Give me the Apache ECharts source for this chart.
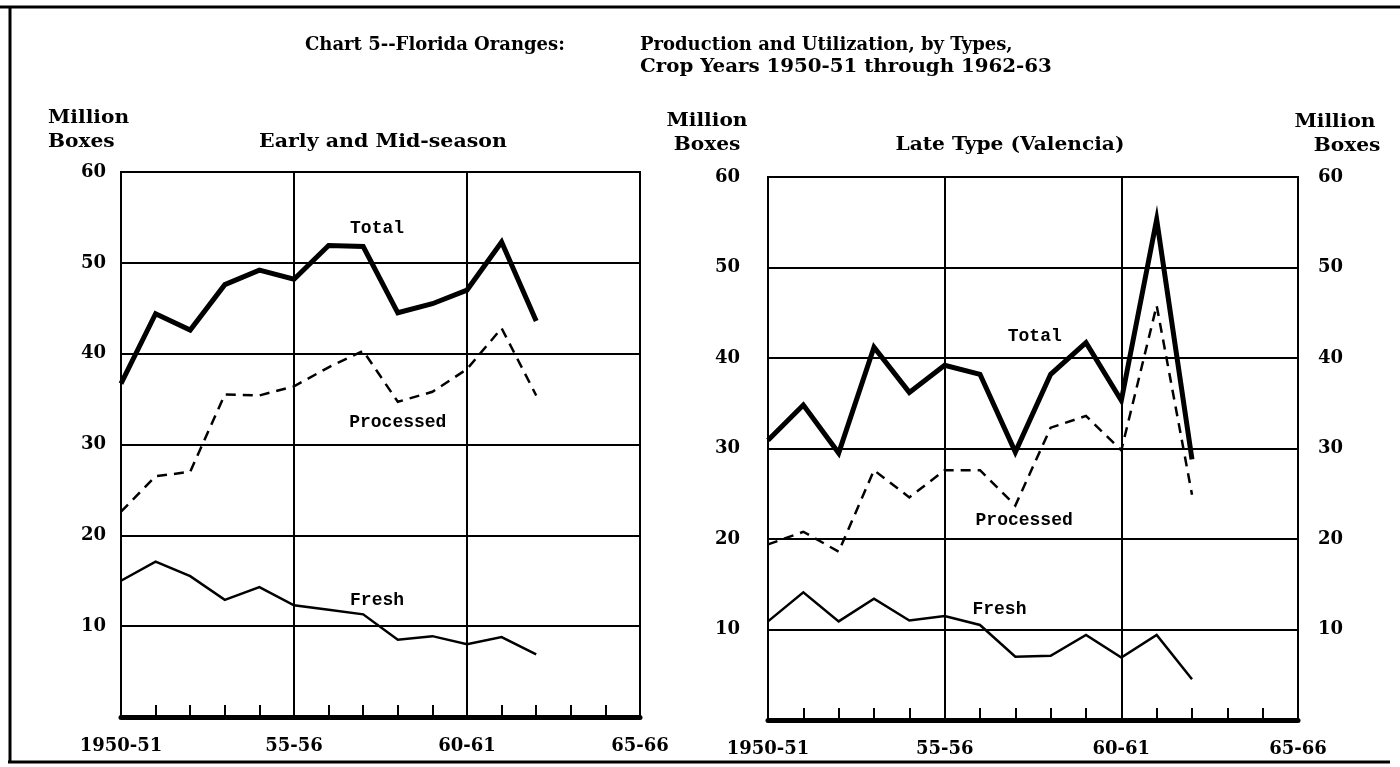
<!DOCTYPE html>
<html>
<head>
<meta charset="utf-8">
<script src="https://cdn.jsdelivr.net/npm/echarts@6/dist/echarts.min.js"></script>
<style>
  html, body { margin: 0; padding: 0; background: #fff; }
  #chart { width: 1400px; height: 767px; }
</style>
</head>
<body>
<div id="chart"></div>
<script>
// crop years on the x axis (tick every year, label every 5)
const years = ['1950-51', '1951-52', '1952-53', '1953-54', '1954-55', '1955-56', '1956-57', '1957-58',
  '1958-59', '1959-60', '1960-61', '1961-62', '1962-63', '1963-64', '1964-65', '1965-66']
const yearLabels = { 0: '1950-51', 5: '55-56', 10: '60-61', 15: '65-66' }

// Early and Mid-season (million boxes)
const earlyTotal = [36.7, 44.4, 42.6, 47.6, 49.2, 48.2, 51.9, 51.8, 44.5, 45.5, 47.0, 52.3, 43.6]
const earlyProcessed = [22.6, 26.5, 27.0, 35.5, 35.4, 36.4, 38.5, 40.3, 34.7, 35.8, 38.3, 42.8, 35.4]
const earlyFresh = [15.0, 17.1, 15.5, 12.9, 14.3, 12.3, 11.8, 11.3, 8.5, 8.9, 8.0, 8.8, 6.9]

// Late type (Valencia)
const lateTotal = [30.9, 34.8, 29.5, 41.2, 36.2, 39.2, 38.2, 29.6, 38.2, 41.7, 35.3, 55.3, 28.8]
const lateProcessed = [19.4, 20.8, 18.6, 27.6, 24.6, 27.6, 27.6, 23.7, 32.3, 33.6, 29.8, 45.8, 24.9]
const lateFresh = [10.9, 14.1, 10.9, 13.4, 11.0, 11.5, 10.5, 7.0, 7.1, 9.4, 6.9, 9.4, 4.5]

const FONT = "'DejaVu Serif', serif"
const TYPE = "'Liberation Mono', monospace"

// plot boxes
const grids = [
  { left: 121, top: 172, width: 519, height: 545 },
  { left: 768, top: 177, width: 530, height: 543 }
]

// where the series names sit (year index, value)
const seriesNames = [
  { g: 0, text: 'Total', x: 7.4, y: 53.8 },
  { g: 0, text: 'Processed', x: 8.0, y: 32.4 },
  { g: 0, text: 'Fresh', x: 7.4, y: 12.8 },
  { g: 1, text: 'Total', x: 7.55, y: 42.4 },
  { g: 1, text: 'Processed', x: 7.25, y: 22.0 },
  { g: 1, text: 'Fresh', x: 6.55, y: 12.2 }
]

function toPx(g, x, y) {
  const b = grids[g]
  return [b.left + x / 15 * b.width, b.top + (60 - y) / 60 * b.height]
}

function xAxisFor(i) {
  return {
    type: 'category',
    gridIndex: i,
    data: years,
    boundaryGap: false,
    axisLine: { lineStyle: { color: '#000', width: 5 } },
    axisTick: { inside: true, length: 12, interval: 0, lineStyle: { color: '#000', width: 2 } },
    axisLabel: {
      interval: 0,
      margin: 20,
      color: '#000',
      fontFamily: FONT,
      fontWeight: 'bold',
      fontSize: 18,
      formatter: (v, idx) => yearLabels[idx] || ''
    },
    splitLine: {
      show: true,
      interval: (idx) => idx % 5 === 0,
      lineStyle: { color: '#000', width: 2 }
    }
  }
}

function yAxisFor(i, pos, margin) {
  return {
    type: 'value',
    gridIndex: i,
    position: pos,
    min: 0,
    max: 60,
    interval: 10,
    axisLine: { show: true, lineStyle: { color: '#000', width: 2 } },
    axisTick: { show: false },
    axisLabel: {
      margin: margin,
      color: '#000',
      fontFamily: FONT,
      fontWeight: 'bold',
      fontSize: 18,
      formatter: (v) => v === 0 ? '' : v
    },
    splitLine: { show: pos === 'left', lineStyle: { color: '#000', width: 2 } }
  }
}

function lineSeries(data, xi, yi, kind) {
  const style = {
    total: { width: 5, type: 'solid' },
    processed: { width: 2.5, type: [10, 7] },
    fresh: { width: 2.5, type: 'solid' }
  }[kind]
  return {
    type: 'line',
    xAxisIndex: xi,
    yAxisIndex: yi,
    data: data,
    symbol: 'none',
    lineStyle: { color: '#000', width: style.width, type: style.type, join: 'miter' },
    z: 5
  }
}

function txt(x, y, text, opts, sx) {
  return {
    type: 'text',
    x: x,
    y: y,
    scaleX: sx || 1,
    style: Object.assign({
      text: text,
      fill: '#000',
      font: 'bold 18px ' + FONT,
      textAlign: 'left',
      textVerticalAlign: 'middle'
    }, opts || {})
  }
}

const graphics = [
  // page frame
  { type: 'line', shape: { x1: 0, y1: 7, x2: 1400, y2: 7 }, style: { stroke: '#000', lineWidth: 3 } },
  { type: 'line', shape: { x1: 10, y1: 6, x2: 10, y2: 763 }, style: { stroke: '#000', lineWidth: 3 } },
  { type: 'line', shape: { x1: 8, y1: 762, x2: 1390, y2: 762 }, style: { stroke: '#000', lineWidth: 3 } },
  // title
  txt(305, 45, 'Chart 5--Florida Oranges:'),
  txt(640, 45, 'Production and Utilization, by Types,'),
  txt(640, 67, 'Crop Years 1950-51 through 1962-63', null, 1.1),
  // unit labels and panel titles
  txt(48, 118, 'Million', null, 1.12),
  txt(48, 142, 'Boxes', null, 1.12),
  txt(383, 142, 'Early and Mid-season', { textAlign: 'center' }, 1.14),
  txt(707, 121, 'Million', { textAlign: 'center' }, 1.12),
  txt(707, 145, 'Boxes', { textAlign: 'center' }, 1.12),
  txt(1010, 145, 'Late Type (Valencia)', { textAlign: 'center' }, 1.12),
  txt(1335, 122, 'Million', { textAlign: 'center' }, 1.12),
  txt(1347, 146, 'Boxes', { textAlign: 'center' }, 1.12)
]

seriesNames.forEach(s => {
  const p = toPx(s.g, s.x, s.y)
  graphics.push(txt(p[0], p[1], s.text, { textAlign: 'center', font: 'bold 18px ' + TYPE }))
})

const option = {
  backgroundColor: '#fff',
  animation: false,
  grid: grids.map(g => Object.assign({ show: true, borderColor: '#000', borderWidth: 2, backgroundColor: 'transparent' }, g)),
  xAxis: [xAxisFor(0), xAxisFor(1)],
  yAxis: [
    yAxisFor(0, 'left', 15),
    yAxisFor(1, 'left', 28),
    yAxisFor(1, 'right', 20)
  ],
  series: [
    lineSeries(earlyTotal, 0, 0, 'total'),
    lineSeries(earlyProcessed, 0, 0, 'processed'),
    lineSeries(earlyFresh, 0, 0, 'fresh'),
    lineSeries(lateTotal, 1, 1, 'total'),
    lineSeries(lateProcessed, 1, 1, 'processed'),
    lineSeries(lateFresh, 1, 1, 'fresh')
  ],
  graphic: graphics
}

const chart = echarts.init(document.getElementById('chart'))
chart.setOption(option)
</script>
</body>
</html>
